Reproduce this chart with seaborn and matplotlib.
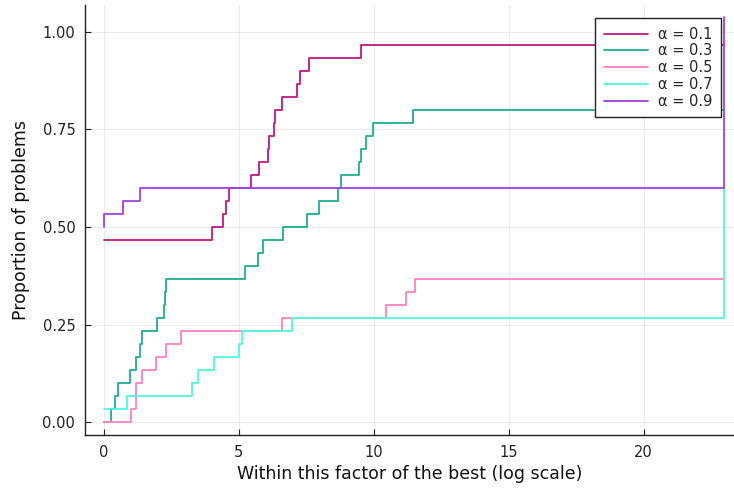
"""Performance profile of the five alpha settings (step curves)."""

import matplotlib
matplotlib.use("Agg")
import matplotlib.pyplot as plt
import numpy as np
import pandas as pd
import seaborn as sns

# number of test problems, levels below are counts of solved problems
n_problems = 30

labels = ["α = 0.1", "α = 0.3", "α = 0.5", "α = 0.7", "α = 0.9"]
colors = ["#c2177f", "#1fae90", "#ff80c4", "#4dfbe0", "#a040e8"]

# break points (log2 ratio) and solved count from that point on
x_a1 = [0, 4.0, 4.44, 4.54, 4.63, 5.47, 5.77, 6.1, 6.14, 6.3, 6.33,
        6.6, 7.18, 7.28, 7.61, 9.52, 22.97]
n_a1 = [14, 15, 16, 17, 18, 19, 20, 21, 22, 23, 24,
        25, 26, 27, 28, 29, 29]

x_a3 = [0, 0.28, 0.43, 0.53, 0.98, 1.2, 1.35, 1.41, 1.98, 2.22, 2.28, 2.31,
        5.24, 5.71, 5.9, 6.66, 7.55, 7.97, 8.7, 8.78, 9.47, 9.53, 9.71,
        9.97, 11.45, 22.97]
n_a3 = [0, 1, 2, 3, 4, 5, 6, 7, 8, 9, 10, 11,
        12, 13, 14, 15, 16, 17, 18, 19, 20, 21, 22,
        23, 24, 24]

x_a5 = [0, 1.02, 1.19, 1.21, 1.41, 1.93, 2.31, 2.87, 6.62, 10.46, 11.2,
        11.54, 22.97]
n_a5 = [0, 1, 2, 3, 4, 5, 6, 7, 8, 9, 10, 11, 11]

x_a7 = [0, 0.88, 3.27, 3.5, 4.09, 5.0, 5.13, 6.97, 22.97]
n_a7 = [1, 2, 3, 4, 5, 6, 7, 8, 18]

x_a9 = [0, 0, 0.73, 1.33, 22.97]
n_a9 = [15, 16, 17, 18, 31.1]

series_x = [x_a1, x_a3, x_a5, x_a7, x_a9]
series_n = [n_a1, n_a3, n_a5, n_a7, n_a9]

frames = []
for label, xs, ns in zip(labels, series_x, series_n):
    frames.append(pd.DataFrame({
        "ratio": xs,
        "proportion": np.array(ns) / n_problems,
        "solver": label,
    }))
df = pd.concat(frames, ignore_index=True)

sns.set_style("white")
plt.rcParams["font.family"] = ["DejaVu Sans"]

fig = plt.figure(figsize=(7.34, 4.90), dpi=100)
ax = fig.add_axes([85 / 734, 55 / 490, 649 / 734, 430 / 490])

sns.lineplot(
    data=df, x="ratio", y="proportion", hue="solver",
    palette=colors, drawstyle="steps-post", estimator=None,
    sort=False, linewidth=1.3, ax=ax,
)

ax.set_xlim(-0.69, 23.35)
ax.set_ylim(-0.032, 1.068)
ax.set_xticks([0, 5, 10, 15, 20])
ax.set_yticks([0.0, 0.25, 0.5, 0.75, 1.0])
ax.set_yticklabels(["0.00", "0.25", "0.50", "0.75", "1.00"])
ax.grid(True, color="black", alpha=0.08, linewidth=0.8)

for side in ["top", "right"]:
    ax.spines[side].set_visible(False)
for side in ["left", "bottom"]:
    ax.spines[side].set_color("#222222")
    ax.spines[side].set_linewidth(1.0)

ax.tick_params(direction="in", length=4, width=0.8, color="#222222",
               labelsize=10.5, labelcolor="#222222", pad=7,
               bottom=True, left=True)

ax.set_xlabel("Within this factor of the best (log scale)", fontsize=12.5,
              color="#111111", labelpad=4)
ax.set_ylabel("Proportion of problems", fontsize=12.5, color="#111111",
              labelpad=9)

handles, _ = ax.get_legend_handles_labels()
leg = ax.legend(
    handles, labels, loc="upper right", bbox_to_anchor=(0.98, 0.97),
    fontsize=10.5, frameon=True, fancybox=False, edgecolor="#222222",
    framealpha=1.0, handlelength=3.0, labelspacing=0.12, borderpad=0.6,
    handletextpad=0.7, borderaxespad=0.0,
)
leg.get_frame().set_linewidth(1.0)

fig.savefig("out.png", dpi=100)
plt.close(fig)
